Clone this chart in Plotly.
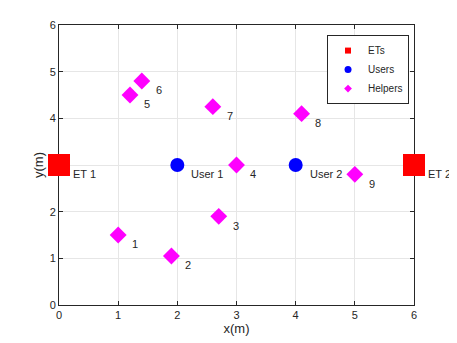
import plotly.graph_objects as go

# ETs, users and helpers positions (m)
et_x = [0, 6]
et_y = [3, 3]
et_names = ["ET 1", "ET 2"]

user_x = [2, 4]
user_y = [3, 3]
user_names = ["User 1", "User 2"]

helper_x = [1.0, 1.9, 2.7, 3.0, 1.2, 1.4, 2.6, 4.1, 5.0]
helper_y = [1.5, 1.05, 1.9, 3.0, 4.5, 4.8, 4.25, 4.1, 2.8]
helper_names = [str(i + 1) for i in range(len(helper_x))]

# label offset from each point (in data units)
label_dx = 0.2
label_dy = -0.2

ink = "#262626"

fig = go.Figure()

# Plot markers (hidden from legend, legend uses small dummy markers)
fig.add_trace(go.Scatter(
    x=et_x, y=et_y, mode='markers', showlegend=False, cliponaxis=False,
    marker=dict(symbol='square', size=22, color='red')
))
fig.add_trace(go.Scatter(
    x=user_x, y=user_y, mode='markers', showlegend=False, cliponaxis=False,
    marker=dict(symbol='circle', size=14, color='blue')
))
fig.add_trace(go.Scatter(
    x=helper_x, y=helper_y, mode='markers', showlegend=False, cliponaxis=False,
    marker=dict(symbol='diamond', size=13, color='magenta')
))

# Legend entries
for name, sym, col, sz in [("ETs", 'square', 'red', 6),
                           ("Users", 'circle', 'blue', 7),
                           ("Helpers", 'diamond', 'magenta', 6)]:
    fig.add_trace(go.Scatter(
        x=[None], y=[None], mode='markers', name=name,
        marker=dict(symbol=sym, size=sz, color=col)
    ))

# page body has an 8px margin, so shift plot area up/left
W, H = 457, 343
margin = dict(l=51, r=51, t=17, b=46)
px_x = (W - margin['l'] - margin['r']) / 6.0
px_y = (H - margin['t'] - margin['b']) / 6.0

# Text labels (anchored on the point, shifted so labels beyond the axis range stay visible)
for xs, ys, names in [(et_x, et_y, et_names),
                      (user_x, user_y, user_names),
                      (helper_x, helper_y, helper_names)]:
    for x, y, t in zip(xs, ys, names):
        fig.add_annotation(
            x=x, y=y, text=t, showarrow=False,
            xanchor='left', yanchor='middle',
            xshift=label_dx * px_x, yshift=label_dy * px_y,
            font=dict(size=11, color=ink)
        )

fig.update_layout(
    width=W,
    height=H,
    margin=margin,
    paper_bgcolor='white',
    plot_bgcolor='white',
    font=dict(family="Liberation Sans, Arial, sans-serif", size=11, color=ink),
    legend=dict(
        x=0.755, y=0.964, xanchor='left', yanchor='top',
        bgcolor='white', bordercolor=ink, borderwidth=1,
        font=dict(size=10, color=ink),
        itemwidth=30, tracegroupgap=0
    ),
)

axis_style = dict(
    range=[0, 6], dtick=1, showgrid=True, gridcolor='#e6e6e6',
    zeroline=False, showline=True, linecolor=ink, linewidth=1,
    mirror='ticks', ticks='inside', ticklen=4, tickcolor=ink,
    tickfont=dict(size=11, color=ink), automargin=False,
    layer='below traces'
)
fig.update_xaxes(title_text="x(m)", title_standoff=3, **axis_style)
fig.update_yaxes(title_text="y(m)", title_standoff=3, **axis_style)

fig.write_html("out.html")
